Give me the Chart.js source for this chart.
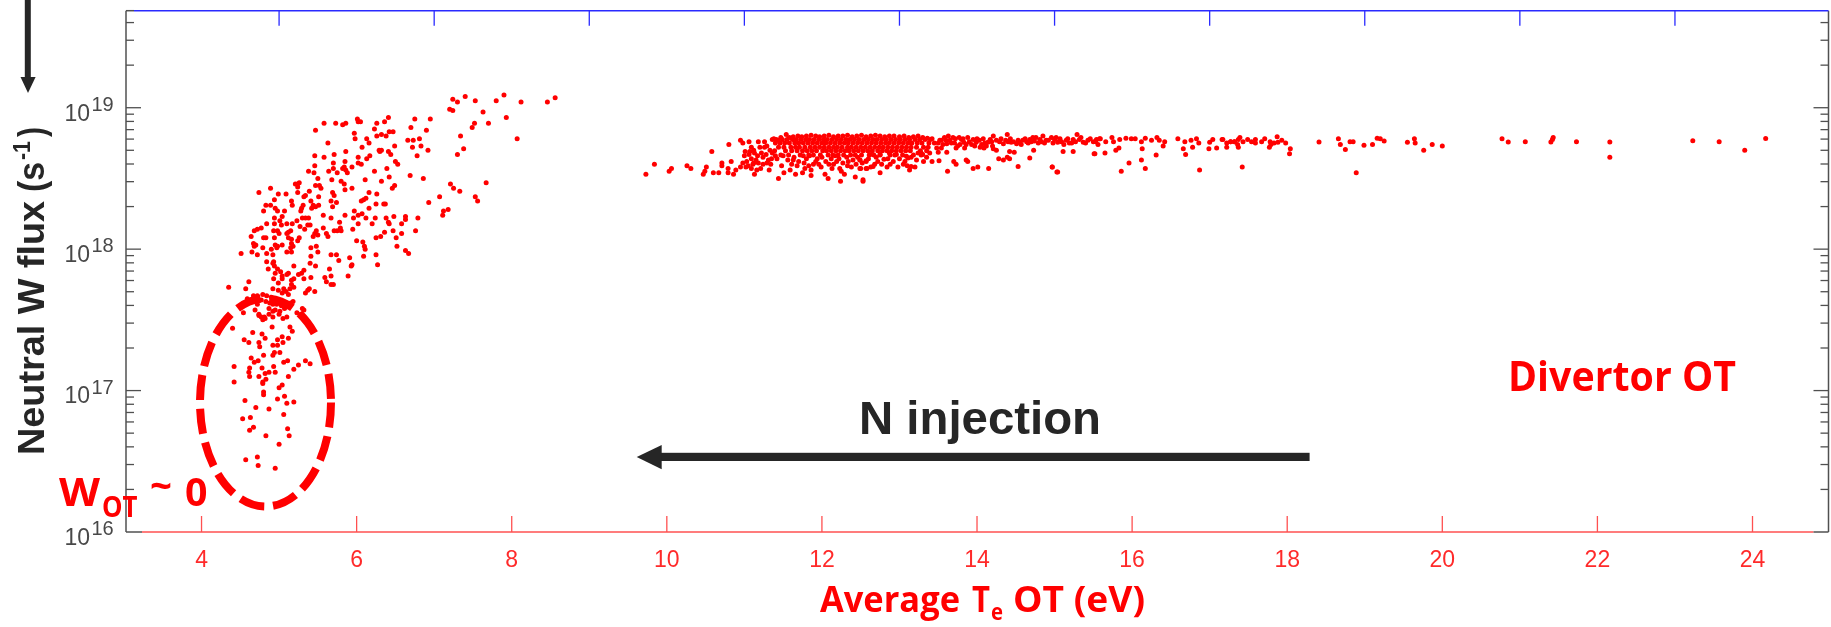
<!DOCTYPE html>
<html>
<head>
<meta charset="utf-8">
<style>html,body{margin:0;padding:0;background:#fff}canvas{display:block}</style>
<script src="https://cdn.jsdelivr.net/npm/chart.js@4"></script>
</head>
<body>
<canvas id="c" width="1831" height="627"></canvas>
<script>
// Each pair: [average Te OT in eV, log10 of neutral W flux in s^-1]
const risePairs = [[5.58,18.89],[5.73,18.89],[5.82,18.88],[5.86,18.89],[6.01,18.92],[6.02,18.90],[6.05,18.90],[6.26,18.89],[6.36,18.90],[6.41,18.93],[6.75,18.92],[5.47,18.84],[6.23,18.85],[5.97,18.82],[5.98,18.78],[6.26,18.80],[6.32,18.81],[6.38,18.80],[6.42,18.83],[6.47,18.83],[6.70,18.86],[6.13,18.78],[6.16,18.75],[5.63,18.75],[6.07,18.72],[6.66,18.77],[6.73,18.77],[6.81,18.78],[6.49,18.73],[6.72,18.72],[5.86,18.69],[6.29,18.70],[6.32,18.70],[6.30,18.69],[6.41,18.69],[6.44,18.67],[5.46,18.66],[5.71,18.67],[5.58,18.65],[6.02,18.65],[6.17,18.66],[6.13,18.64],[6.78,18.66],[5.85,18.62],[5.70,18.61],[5.46,18.59],[6.02,18.61],[6.06,18.60],[6.50,18.62],[6.53,18.60],[5.94,18.58],[5.84,18.58],[5.82,18.57],[5.70,18.57],[5.38,18.55],[5.45,18.54],[5.64,18.55],[5.75,18.54],[5.86,18.56],[5.88,18.54],[6.23,18.55],[6.39,18.57],[6.42,18.51],[6.69,18.52],[5.50,18.50],[5.68,18.49],[5.80,18.48],[6.11,18.49],[6.32,18.48],[5.21,18.46],[5.24,18.46],[5.26,18.47],[5.24,18.44],[5.47,18.45],[5.52,18.45],[5.84,18.46],[6.49,18.45],[6.46,18.43],[4.74,18.40],[4.89,18.43],[4.99,18.39],[5.09,18.39],[5.24,18.40],[5.39,18.41],[5.54,18.43],[5.69,18.40],[5.71,18.38],[5.85,18.42],[5.94,18.43],[6.16,18.40],[6.26,18.39],[5.32,18.37],[5.51,18.37],[4.94,18.35],[5.34,18.38],[6.09,18.35],[6.12,18.36]];
const midPairs = [[5.16,18.34],[5.17,18.31],[4.83,18.31],[4.89,18.31],[4.95,18.29],[4.98,18.27],[4.80,18.27],[5.07,18.27],[5.31,18.31],[5.29,18.29],[5.28,18.27],[5.41,18.34],[5.44,18.31],[5.51,18.31],[5.47,18.30],[5.42,18.29],[5.67,18.34],[5.74,18.33],[5.69,18.30],[6.06,18.34],[6.25,18.32],[6.35,18.32],[6.37,18.32],[6.16,18.29],[5.97,18.27],[6.07,18.25],[6.02,18.24],[5.85,18.24],[5.96,18.22],[5.57,18.24],[5.67,18.22],[5.04,18.23],[4.94,18.22],[5.01,18.20],[5.30,18.22],[5.34,18.22],[5.38,18.22],[4.84,18.18],[5.23,18.20],[5.17,18.18],[5.10,18.18],[5.03,18.17],[4.94,18.18],[5.37,18.17],[5.40,18.17],[5.33,18.14],[4.77,18.15],[4.72,18.14],[4.68,18.13],[4.93,18.13],[4.98,18.13],[5.00,18.11],[5.10,18.11],[5.12,18.12],[5.15,18.13],[5.27,18.16],[5.78,18.19],[5.79,18.15],[5.75,18.13],[5.71,18.13],[5.80,18.13],[5.57,18.15],[5.61,18.11],[5.63,18.09],[5.48,18.13],[5.46,18.11],[5.44,18.09],[5.50,18.10],[6.02,18.18],[5.95,18.14],[6.12,18.22],[6.20,18.18],[6.24,18.22],[6.38,18.22],[6.48,18.23],[6.41,18.19],[6.42,18.18],[6.58,18.18],[6.63,18.23],[6.63,18.21],[6.79,18.22],[6.76,18.13],[6.47,18.13],[6.58,18.11],[6.36,18.12],[6.31,18.09],[6.25,18.08],[6.51,18.08],[4.64,18.09],[4.83,18.08],[4.80,18.08],[4.94,18.08],[5.12,18.08],[5.16,18.07],[5.16,18.04],[5.18,18.02],[5.26,18.08],[5.24,18.06],[4.67,18.04],[4.70,18.03],[4.68,18.02],[4.95,18.03],[4.98,18.02],[5.04,18.03],[5.15,18.01],[4.79,18.01],[4.90,18.00],[5.10,17.98],[5.16,17.98],[4.65,17.98],[4.51,17.97],[4.72,17.96],[4.84,17.97],[4.92,17.96],[4.97,18.01],[5.41,18.01],[5.48,18.02],[5.50,17.98],[6.00,18.06],[6.08,18.05],[6.10,18.02],[6.11,18.00],[6.52,18.02],[6.63,17.99],[6.67,17.97],[5.67,17.96],[5.74,17.96],[6.09,17.95],[6.25,17.96],[5.41,17.95],[5.91,17.94],[5.77,17.92],[4.84,17.91],[4.93,17.91],[4.92,17.90],[4.94,17.88],[5.19,17.88],[5.40,17.90],[5.47,17.88],[5.94,17.89],[5.93,17.88],[6.27,17.89],[4.86,17.86],[4.98,17.86],[5.02,17.84],[4.95,17.83],[5.04,17.81],[5.12,17.83],[5.10,17.82],[5.32,17.85],[5.29,17.83],[5.25,17.82],[5.65,17.86],[5.67,17.81],[5.89,17.81],[5.41,17.80],[4.93,17.79],[5.04,17.79],[5.16,17.78],[5.19,17.79],[5.32,17.79],[5.59,17.80],[5.61,17.77],[4.61,17.77],[4.99,17.76],[5.16,17.75],[5.67,17.75],[5.70,17.75],[4.35,17.73],[4.57,17.72],[4.92,17.72],[4.99,17.71],[5.06,17.72],[5.14,17.72],[5.19,17.73],[5.39,17.72],[5.37,17.71],[5.46,17.70],[5.34,17.69],[5.09,17.70],[5.04,17.69],[5.12,17.68]];
const kneePairs = [[4.67,17.67],[4.72,17.67],[4.79,17.68],[4.84,17.67],[4.90,17.66],[4.95,17.65],[5.00,17.64],[5.05,17.63],[5.10,17.62],[5.15,17.62],[4.83,17.63],[4.88,17.62],[4.92,17.61],[4.97,17.61],[5.03,17.60],[5.08,17.59],[4.87,17.58],[4.95,17.57],[5.01,17.56],[5.07,17.58],[4.69,17.57],[4.74,17.54],[4.81,17.52],[4.87,17.54],[4.92,17.52],[5.00,17.54],[5.18,17.63],[5.30,17.58],[4.72,17.61],[4.77,17.64],[4.59,17.65]];
const lowPairs = [[4.40,17.44],[4.54,17.55],[4.77,17.52],[4.79,17.50],[4.74,17.53],[4.82,17.51],[4.92,17.56],[5.05,17.51],[5.10,17.52],[5.28,17.54],[5.32,17.57],[5.23,17.55],[4.91,17.45],[5.14,17.45],[5.17,17.42],[4.66,17.41],[4.78,17.40],[4.82,17.37],[4.55,17.36],[4.61,17.34],[4.74,17.34],[4.75,17.31],[5.04,17.38],[4.98,17.36],[5.12,17.37],[5.05,17.34],[4.92,17.32],[4.98,17.32],[5.01,17.27],[4.92,17.25],[4.94,17.27],[4.80,17.25],[4.64,17.23],[4.68,17.20],[4.73,17.21],[5.11,17.21],[5.06,17.20],[5.34,17.21],[5.40,17.19],[5.25,17.18],[5.19,17.15],[4.42,17.17],[4.62,17.16],[4.61,17.13],[4.62,17.10],[4.78,17.16],[4.93,17.17],[4.95,17.13],[4.87,17.13],[4.82,17.12],[4.74,17.10],[5.12,17.10],[4.42,17.06],[4.79,17.06],[4.79,17.05],[4.83,17.08],[5.04,17.04],[5.00,17.02],[4.80,16.99],[4.80,16.97],[5.07,16.96],[4.98,16.94],[4.56,16.93],[5.10,16.91],[5.19,16.92],[4.70,16.88],[4.87,16.87],[5.06,16.83],[4.63,16.81],[4.53,16.80],[5.11,16.73],[4.67,16.74],[4.62,16.72],[4.83,16.68],[5.13,16.68],[5.00,16.62],[4.72,16.53],[4.57,16.51],[4.73,16.47],[4.95,16.45]];
const upperRightPairs = [[7.24,19.06],[7.30,19.04],[7.40,19.08],[7.53,19.05],[7.80,19.05],[7.90,19.09],[8.12,19.04],[8.46,19.04],[8.56,19.07],[7.20,18.99],[7.24,18.98],[7.63,18.97],[7.93,18.93],[7.70,18.89],[7.52,18.89],[7.49,18.86],[7.34,18.80],[8.07,18.78],[7.38,18.71],[7.30,18.67],[7.67,18.47],[7.21,18.46],[7.25,18.43],[7.33,18.41],[7.07,18.37],[6.93,18.33],[7.53,18.37],[7.56,18.34],[7.18,18.28],[7.12,18.27],[7.11,18.24],[6.95,18.92],[6.90,18.84],[6.83,18.73],[6.92,18.70],[6.86,18.50]];
const bandLeftPairs = [[9.73,18.53],[9.84,18.60],[10.03,18.55],[10.06,18.57],[10.26,18.59],[10.31,18.57],[10.58,18.69],[10.51,18.58],[10.49,18.55],[10.47,18.53],[10.60,18.54],[10.67,18.54],[10.80,18.74],[10.71,18.61],[10.71,18.59],[10.83,18.62],[10.79,18.57],[10.79,18.54],[10.86,18.53],[10.89,18.56],[10.95,18.58],[10.95,18.77],[10.98,18.75],[11.06,18.76],[11.18,18.76],[11.26,18.76],[11.09,18.72],[11.01,18.69],[11.07,18.69],[11.00,18.66],[11.06,18.67],[11.13,18.68],[11.20,18.72],[11.26,18.72],[11.29,18.73],[11.22,18.68],[11.03,18.62],[10.98,18.61],[11.09,18.64],[11.15,18.63],[11.05,18.59],[11.11,18.60],[11.18,18.61],[11.09,18.57],[11.13,18.53],[11.31,18.63],[11.35,18.64],[11.29,18.61],[11.21,18.57],[11.32,18.56],[11.48,18.59],[11.44,18.50],[11.51,18.54],[11.63,18.63],[11.61,18.60],[11.59,18.56],[11.66,18.53],[11.76,18.66],[11.77,18.61],[11.78,18.57],[11.75,18.54],[11.89,18.60],[11.86,18.56],[11.86,18.52],[11.94,18.64],[11.99,18.58],[12.09,18.60],[12.04,18.53],[12.08,18.50],[12.24,18.48],[12.23,18.57],[12.25,18.55],[12.29,18.53],[12.38,18.58],[12.43,18.51],[12.53,18.48],[12.49,18.57],[12.58,18.57],[12.19,18.62],[12.34,18.62],[12.17,18.66],[12.49,18.63],[12.57,18.62],[11.12,18.70],[11.17,18.66],[11.24,18.65],[11.28,18.67],[11.33,18.70],[11.36,18.68],[11.40,18.66],[11.12,18.61],[11.24,18.60],[11.34,18.60],[11.02,18.58],[11.16,18.56]];
const bandTopPairs = [[11.38,18.78],[11.43,18.77],[11.47,18.79],[11.54,18.81],[11.58,18.79],[11.63,18.795],[11.69,18.80],[11.74,18.795],[11.80,18.80],[11.86,18.805],[11.92,18.80],[11.97,18.795],[12.03,18.80],[12.09,18.805],[12.15,18.795],[12.21,18.80],[12.27,18.80],[12.33,18.805],[12.39,18.795],[12.45,18.80],[12.51,18.805],[12.57,18.795],[12.63,18.80],[12.69,18.805],[12.75,18.80],[12.81,18.795],[12.87,18.80],[12.93,18.80],[13.00,18.795],[13.06,18.80],[13.12,18.79],[13.18,18.795],[13.24,18.80],[13.30,18.79],[13.36,18.785],[13.42,18.78]];
const bandRow1877 = [11.36,11.41,11.49,11.55,11.62,11.67,11.73,11.79,11.84,11.90,11.96,12.02,12.07,12.13,12.19,12.25,12.31,12.36,12.42,12.48,12.54,12.60,12.66,12.71,12.77,12.83,12.89,12.95,13.01,13.07,13.13,13.20,13.26,13.33,13.40];
const bandRow1875 = [11.40,11.46,11.52,11.58,11.65,11.70,11.76,11.82,11.88,11.94,12.00,12.05,12.11,12.17,12.23,12.29,12.34,12.40,12.46,12.52,12.58,12.64,12.70,12.76,12.82,12.87,12.93,12.99,13.05,13.11,13.16,13.23,13.29,13.38,13.45];
const bandRow1872 = [11.44,11.51,11.60,11.66,11.71,11.78,11.85,11.91,11.97,12.03,12.09,12.15,12.20,12.26,12.33,12.38,12.44,12.50,12.56,12.62,12.68,12.74,12.79,12.85,12.91,12.97,13.03,13.09,13.15,13.22,13.31,13.37];
const bandRow1870 = [11.39,11.53,11.61,11.68,11.75,11.81,11.87,11.93,12.01,12.06,12.12,12.18,12.24,12.30,12.35,12.41,12.47,12.53,12.59,12.65,12.72,12.78,12.84,12.90,12.96,13.02,13.08,13.14,13.27,13.35];
const bandRow1867 = [11.47,11.57,11.72,11.83,11.89,11.98,12.08,12.14,12.21,12.28,12.37,12.43,12.51,12.61,12.67,12.75,12.88,12.94,13.04,13.18,13.28];
const bandFillPairs = [[11.42,18.64],[11.50,18.66],[11.56,18.63],[11.64,18.65],[11.70,18.62],[11.80,18.64],[11.84,18.66],[11.92,18.62],[12.00,18.65],[12.05,18.62],[12.12,18.64],[12.15,18.60],[12.22,18.64],[12.27,18.61],[12.32,18.65],[12.40,18.63],[12.46,18.65],[12.52,18.61],[12.60,18.64],[12.70,18.65],[12.77,18.60],[12.85,18.64],[12.92,18.62],[13.00,18.64],[13.07,18.62],[13.15,18.65],[13.22,18.63],[13.35,18.65],[11.68,18.59],[11.83,18.59],[11.96,18.60],[12.13,18.57],[12.33,18.59],[12.44,18.60],[12.63,18.58],[12.84,18.58],[13.05,18.60],[13.10,18.59]];
const bandRightPairs = [[13.50,18.75],[13.54,18.77],[13.58,18.79],[13.63,18.80],[13.65,18.77],[13.69,18.79],[13.61,18.746],[13.71,18.75],[13.77,18.79],[13.80,18.775],[13.83,18.756],[13.88,18.79],[13.73,18.716],[13.78,18.74],[13.84,18.716],[13.95,18.775],[13.99,18.756],[13.97,18.73],[14.03,18.77],[14.06,18.74],[14.10,18.75],[14.09,18.716],[14.14,18.756],[14.17,18.775],[14.21,18.80],[14.25,18.77],[14.20,18.73],[14.29,18.76],[14.34,18.746],[14.39,18.81],[14.40,18.76],[14.44,18.756],[14.51,18.746],[14.55,18.756],[14.59,18.77],[14.64,18.76],[14.68,18.775],[14.72,18.79],[14.76,18.79],[14.81,18.775],[14.85,18.80],[14.89,18.77],[14.96,18.79],[15.00,18.775],[15.04,18.756],[15.09,18.76],[15.15,18.77],[15.19,18.75],[15.24,18.775],[15.29,18.81],[15.32,18.775],[15.37,18.756],[15.43,18.77],[15.50,18.76],[15.54,18.775],[15.58,18.78],[13.50,18.685],[13.61,18.685],[13.48,18.716],[13.54,18.716],[14.21,18.71],[14.25,18.70],[14.42,18.69],[14.48,18.685],[14.39,18.65],[14.28,18.64],[14.34,18.63],[14.42,18.64],[14.68,18.645],[14.73,18.70],[15.11,18.69],[15.24,18.69],[15.51,18.675],[14.53,18.585],[14.97,18.58],[15.03,18.545],[14.15,18.57],[13.95,18.57],[14.01,18.58],[13.62,18.55],[13.70,18.62],[13.73,18.60],[13.86,18.63],[13.88,18.62],[13.51,18.625],[13.42,18.62],[13.31,18.62],[13.30,18.67],[13.39,18.68],[13.28,18.68],[13.20,18.58],[13.15,18.585],[13.13,18.56],[12.98,18.58],[12.88,18.60],[12.75,18.54],[12.80,18.635],[12.72,18.62],[12.68,18.60],[12.66,18.585],[12.57,18.57],[12.50,18.57],[12.57,18.625],[12.49,18.63],[12.53,18.49],[13.09,18.656],[13.11,18.645],[13.24,18.68],[12.62,18.67],[12.75,18.67],[12.87,18.68],[12.96,18.67],[13.52,18.77],[13.56,18.74],[13.60,18.77],[13.67,18.75],[13.72,18.78],[13.75,18.73],[13.82,18.78],[13.86,18.74],[13.90,18.76],[13.93,18.74],[14.00,18.78],[14.04,18.72],[14.08,18.78],[14.12,18.73],[14.19,18.76],[14.31,18.78],[14.37,18.77],[14.43,18.78],[14.47,18.76],[14.53,18.77],[14.57,18.74],[14.62,18.78],[14.66,18.75],[14.70,18.76],[14.74,18.765],[14.79,18.75],[14.83,18.76],[14.87,18.75],[14.92,18.77],[14.98,18.75],[15.02,18.79],[15.07,18.78],[15.12,18.74],[15.17,18.78],[15.22,18.75],[15.27,18.76],[15.34,18.79],[15.40,18.75],[15.46,18.78],[15.56,18.74]];
const bandFarPairs = [[15.53,18.76],[15.59,18.78],[15.66,18.76],[15.74,18.79],[15.76,18.76],[15.84,18.775],[15.92,18.785],[15.99,18.78],[16.04,18.78],[16.12,18.76],[16.17,18.785],[16.25,18.77],[16.32,18.79],[16.35,18.77],[16.42,18.76],[16.40,18.73],[16.59,18.78],[16.68,18.76],[16.76,18.77],[16.83,18.78],[16.86,18.75],[16.78,18.72],[16.66,18.71],[16.69,18.67],[16.99,18.71],[17.00,18.755],[17.04,18.775],[17.09,18.715],[17.16,18.775],[17.22,18.75],[17.27,18.76],[17.32,18.76],[17.37,18.775],[17.37,18.72],[15.52,18.675],[15.65,18.68],[15.79,18.70],[15.83,18.715],[16.13,18.71],[16.12,18.63],[15.96,18.61],[16.31,18.665],[15.86,18.55],[16.17,18.57],[16.87,18.56],[14.97,18.58],[15.04,18.545]];
const tailPairs = [[17.17,18.775],[17.22,18.72],[17.27,18.76],[17.32,18.76],[17.36,18.74],[17.39,18.79],[17.43,18.76],[17.49,18.775],[17.54,18.76],[17.59,18.775],[17.59,18.75],[17.67,18.76],[17.71,18.78],[17.77,18.72],[17.78,18.76],[17.79,18.74],[17.83,18.75],[17.87,18.795],[17.88,18.755],[17.93,18.77],[17.98,18.75],[18.04,18.71],[18.03,18.675],[17.42,18.58],[18.41,18.757],[18.66,18.78],[18.685,18.74],[18.75,18.705],[18.81,18.76],[18.85,18.76],[18.89,18.54],[18.99,18.735],[19.10,18.74],[19.16,18.785],[19.20,18.78],[19.25,18.765],[19.55,18.755],[19.64,18.78],[19.65,18.75],[19.76,18.70],[19.87,18.74],[20.00,18.73],[20.77,18.78],[20.85,18.757],[21.07,18.76],[21.40,18.757],[21.42,18.775],[21.43,18.79],[21.73,18.76],[22.16,18.757],[22.16,18.65],[23.23,18.767],[23.57,18.76],[23.90,18.70],[24.17,18.783]];

const xTickValues = [4,6,8,10,12,14,16,18,20,22,24];
const xTopTickValues = [5,7,9,11,13,15,17,19,21,23];
const yDecadeValues = [1e16,1e17,1e18,1e19];
const yExponents = ['16','17','18','19'];
const yMinorValues = [2e16,3e16,4e16,5e16,6e16,7e16,8e16,9e16,2e17,3e17,4e17,5e17,6e17,7e17,8e17,9e17,2e18,3e18,4e18,5e18,6e18,7e18,8e18,9e18,2e19,3e19,4e19];

const rowPairs = (eVs, lg) => eVs.map(e => [e, lg]);
const allPairs = [].concat(risePairs, midPairs, kneePairs, lowPairs, upperRightPairs, bandLeftPairs, bandTopPairs,
  rowPairs(bandRow1877,18.775), rowPairs(bandRow1875,18.75), rowPairs(bandRow1872,18.72), rowPairs(bandRow1870,18.695), rowPairs(bandRow1867,18.665),
  bandFillPairs, bandRightPairs, bandFarPairs, tailPairs);
const points = allPairs.map(p => ({x:p[0], y:Math.pow(10,p[1])}));

const SANS = '"Liberation Sans"', OPEN = '"Open Sans"';
const DARK = '#262626', RED = '#ff0000';

function fitText(ctx, text, x, baseline, width, font, color){
  ctx.save();
  ctx.font = font; ctx.fillStyle = color; ctx.textAlign = 'left'; ctx.textBaseline = 'alphabetic';
  const w = ctx.measureText(text).width;
  ctx.translate(x, baseline); ctx.scale(width / w, 1);
  ctx.fillText(text, 0, 0);
  ctx.restore();
}

const framePlugin = {
  id:'frame',
  afterDraw(chart){
    const ctx = chart.ctx, xs = chart.scales.x, ys = chart.scales.y, a = chart.chartArea;
    const seg = (x1,y1,x2,y2,c,w) => { ctx.strokeStyle=c; ctx.lineWidth=w; ctx.beginPath(); ctx.moveTo(x1,y1); ctx.lineTo(x2,y2); ctx.stroke(); };
    ctx.save();
    const GRAY = '#505050', BLUE = '#2a2aff', AXRED = '#ff5050';
    // axes box
    seg(a.left,a.top,a.left,a.bottom,GRAY,1.5);
    seg(a.right,a.top,a.right,a.bottom,GRAY,1.5);
    seg(a.left,a.top,a.left+8,a.top,GRAY,1.5);
    seg(a.left+8,a.top,a.right,a.top,BLUE,1.5);
    seg(a.left,a.bottom,a.left+16,a.bottom,GRAY,1.5);
    seg(a.left+16,a.bottom,a.right-15,a.bottom,AXRED,1.5);
    seg(a.right-15,a.bottom,a.right,a.bottom,GRAY,1.5);
    xTickValues.forEach(v => { const p = xs.getPixelForValue(v); seg(p,a.bottom,p,a.bottom-16,AXRED,1.3); });
    xTopTickValues.forEach(v => { const p = xs.getPixelForValue(v); seg(p,a.top,p,a.top+15,BLUE,1.3); });
    yDecadeValues.forEach(v => { const p = ys.getPixelForValue(v);
      if(v>1e16){ seg(a.left,p,a.left+15,p,GRAY,1.3); seg(a.right,p,a.right-15,p,GRAY,1.3); } });
    yMinorValues.forEach(v => { const p = ys.getPixelForValue(v); seg(a.left,p,a.left+8,p,GRAY,1.3); seg(a.right,p,a.right-8,p,GRAY,1.3); });
    // exponents of the y tick labels
    ctx.fillStyle = '#484848'; ctx.font = '20px '+SANS; ctx.textAlign='left'; ctx.textBaseline='alphabetic';
    yDecadeValues.forEach((v,i) => { ctx.fillText(yExponents[i], 91.5, ys.getPixelForValue(v)+3); });

    // dashed ellipse
    ctx.strokeStyle = RED; ctx.lineWidth = 8; ctx.setLineDash([25,9]);
    ctx.beginPath(); ctx.ellipse(265.5,402.5,65.5,104,0,0,Math.PI*2); ctx.stroke();
    ctx.setLineDash([]);

    // N injection arrow
    ctx.fillStyle = DARK;
    ctx.fillRect(655,452.8,654.6,8.2);
    ctx.beginPath(); ctx.moveTo(636.7,457); ctx.lineTo(661.7,445); ctx.lineTo(661.7,469.3); ctx.closePath(); ctx.fill();
    fitText(ctx,'N injection',859,434,242,'bold 47px '+SANS,DARK);

    // top-left arrow
    ctx.fillRect(24.8,0,6,80);
    ctx.beginPath(); ctx.moveTo(28,93); ctx.lineTo(20.5,77); ctx.lineTo(35.6,77); ctx.closePath(); ctx.fill();

    // y axis title
    ctx.save();
    ctx.translate(43.5,455); ctx.rotate(-Math.PI/2);
    fitText(ctx,'Neutral W flux',0,0,254,'bold 37px '+SANS,DARK);
    fitText(ctx,'(s',263,0,30,'bold 37px '+SANS,DARK);
    fitText(ctx,'-1',295,-14,19,'bold 23px '+SANS,DARK);
    fitText(ctx,')',318,0,10,'bold 37px '+SANS,DARK);
    ctx.restore();

    // x axis title
    const BOLD36 = 'bold 36px '+OPEN;
    fitText(ctx,'Average',820,611.7,140,BOLD36,RED);
    fitText(ctx,'T',972,611.7,18,BOLD36,RED);
    fitText(ctx,'e',991,620,12,'bold 23px '+OPEN,RED);
    fitText(ctx,'OT (eV)',1013,611.7,132,BOLD36,RED);

    // red labels
    fitText(ctx,'Divertor OT',1508,391,228,'bold 42px '+OPEN,RED);
    fitText(ctx,'W',59,505.7,41,'bold 40px '+OPEN,RED);
    fitText(ctx,'OT',102,516.7,35.5,'bold 28px '+OPEN,RED);
    fitText(ctx,'~',150,500,22,'bold 40px '+OPEN,RED);
    fitText(ctx,'0',185,505.7,22.5,'bold 40px '+OPEN,RED);
    ctx.restore();
  }
};

new Chart(document.getElementById('c'), {
  type:'scatter',
  data:{datasets:[{label:'Divertor OT',data:points,backgroundColor:RED,borderWidth:0,pointRadius:2.5,pointHoverRadius:2.5}]},
  plugins:[framePlugin],
  options:{
    responsive:false, animation:false, events:[],
    layout:{padding:{top:10.7,right:2,left:0,bottom:0}},
    plugins:{legend:{display:false},tooltip:{enabled:false},title:{display:false}},
    scales:{
      x:{type:'linear',min:3.026,max:24.98,
        grid:{display:false,drawTicks:false},border:{display:false},
        afterBuildTicks(s){ s.ticks = xTickValues.map(v=>({value:v})); },
        afterFit(s){ s.height = 95; s.paddingLeft = 0; s.paddingRight = 0; },
        ticks:{color:'#ff2a2a',font:{family:'Liberation Sans',size:23},padding:14.5,autoSkip:false,maxRotation:0,minRotation:0,
          callback:v=>String(v)}
      },
      y:{type:'logarithmic',min:1e16,max:Math.pow(10,19.686),
        grid:{display:false,drawTicks:false},border:{display:false},
        afterBuildTicks(s){ s.ticks = yDecadeValues.map(v=>({value:v})); },
        afterFit(s){ s.width = 126; s.paddingTop = 0; s.paddingBottom = 0; },
        ticks:{color:'#484848',font:{family:'Liberation Sans',size:23},padding:36,labelOffset:6.5,autoSkip:false,
          callback:()=>'10'}
      }
    }
  }
});
</script>
</body>
</html>
